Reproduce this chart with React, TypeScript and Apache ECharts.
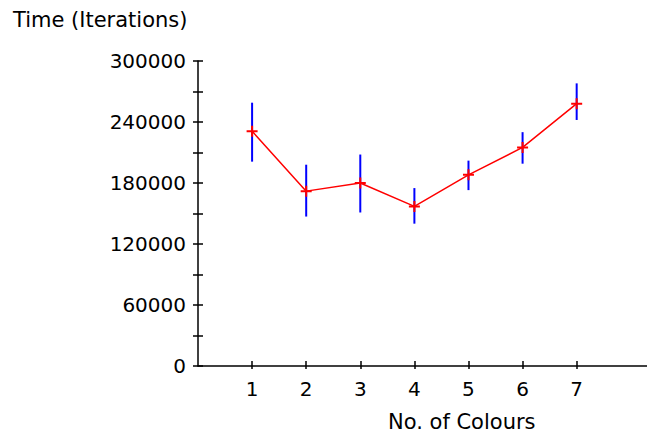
import React, { useEffect, useRef } from "react";
import * as echarts from "echarts";

const colours = [1, 2, 3, 4, 5, 6, 7];
const meanTime = [231000, 172000, 180000, 157000, 188000, 215000, 258000];
const upperTime = [259000, 198000, 208000, 175000, 202000, 230000, 278000];
const lowerTime = [201000, 147000, 151000, 140000, 173000, 199000, 242000];
const yTickValues = [0, 30000, 60000, 90000, 120000, 150000, 180000, 210000, 240000, 270000, 300000];
const yLabelValues = [0, 60000, 120000, 180000, 240000, 300000];

const FONT = "DejaVu Sans";

export default function App() {
  const ref = useRef<HTMLDivElement>(null);
  useEffect(() => {
    if (!ref.current) return;
    const chart = echarts.init(ref.current, null, { renderer: "svg" });
    const tickStyle = { color: "#000", width: 1.5 };
    chart.setOption({
      animation: false,
      backgroundColor: "#fff",
      grid: { left: 198, right: 0, top: 61, bottom: 69 },
      xAxis: [
        {
          type: "value",
          min: 0,
          max: 8.3,
          axisLine: { show: true, onZero: false, lineStyle: { color: "#000", width: 1.5 } },
          axisTick: { show: false },
          axisLabel: { customValues: colours, margin: 13, color: "#000", fontFamily: FONT, fontSize: 20 },
          splitLine: { show: false },
        },
        {
          type: "value",
          position: "bottom",
          offset: -5,
          min: 0,
          max: 8.3,
          axisLine: { show: true, onZero: false, lineStyle: { color: "rgba(0,0,0,0)", width: 0 } },
          axisTick: { show: true, customValues: colours, length: 8, lineStyle: tickStyle },
          axisLabel: { show: false },
          splitLine: { show: false },
        },
      ],
      yAxis: [
        {
          type: "value",
          min: 0,
          max: 300000,
          axisLine: { show: true, onZero: false, lineStyle: { color: "#000", width: 1.5 } },
          axisTick: { show: false },
          axisLabel: {
            customValues: yLabelValues,
            margin: 12,
            color: "#000",
            fontFamily: FONT,
            fontSize: 20,
            formatter: (v: number) => String(v),
          },
          splitLine: { show: false },
        },
        {
          type: "value",
          position: "left",
          offset: -5,
          min: 0,
          max: 300000,
          axisLine: { show: true, onZero: false, lineStyle: { color: "rgba(0,0,0,0)", width: 0 } },
          axisTick: { show: true, customValues: yTickValues, length: 10, lineStyle: tickStyle },
          axisLabel: { show: false },
          splitLine: { show: false },
        },
      ],
      graphic: [
        {
          type: "text",
          left: 13,
          top: 9,
          style: { text: "Time (Iterations)", fill: "#000", font: `21px '${FONT}'` },
        },
        {
          type: "text",
          left: 388,
          top: 411,
          style: { text: "No. of Colours", fill: "#000", font: `21px '${FONT}'` },
        },
      ],
      series: [
        {
          type: "custom",
          xAxisIndex: 0,
          yAxisIndex: 0,
          z: 2,
          data: colours.map((c, i) => [c, upperTime[i], lowerTime[i]]),
          encode: { x: 0, y: [1, 2] },
          renderItem: (params: any, api: any) => {
            const x = api.value(0);
            const p1 = api.coord([x, api.value(1)]);
            const p2 = api.coord([x, api.value(2)]);
            return {
              type: "line",
              shape: { x1: p1[0], y1: p1[1], x2: p2[0], y2: p2[1] },
              style: { stroke: "#0000ff", lineWidth: 2 },
            };
          },
        },
        {
          type: "line",
          xAxisIndex: 0,
          yAxisIndex: 0,
          z: 3,
          data: colours.map((c, i) => [c, meanTime[i]]),
          symbol: "path://M0,4.5H11V6.5H0Z M4.5,0H6.5V11H4.5Z",
          symbolSize: 11,
          itemStyle: { color: "#ff0000" },
          lineStyle: { color: "#ff0000", width: 1.5 },
        },
      ],
    });
    return () => chart.dispose();
  }, []);
  return <div ref={ref} style={{ position: "fixed", left: 0, top: 0, width: 647, height: 435 }} />;
}
